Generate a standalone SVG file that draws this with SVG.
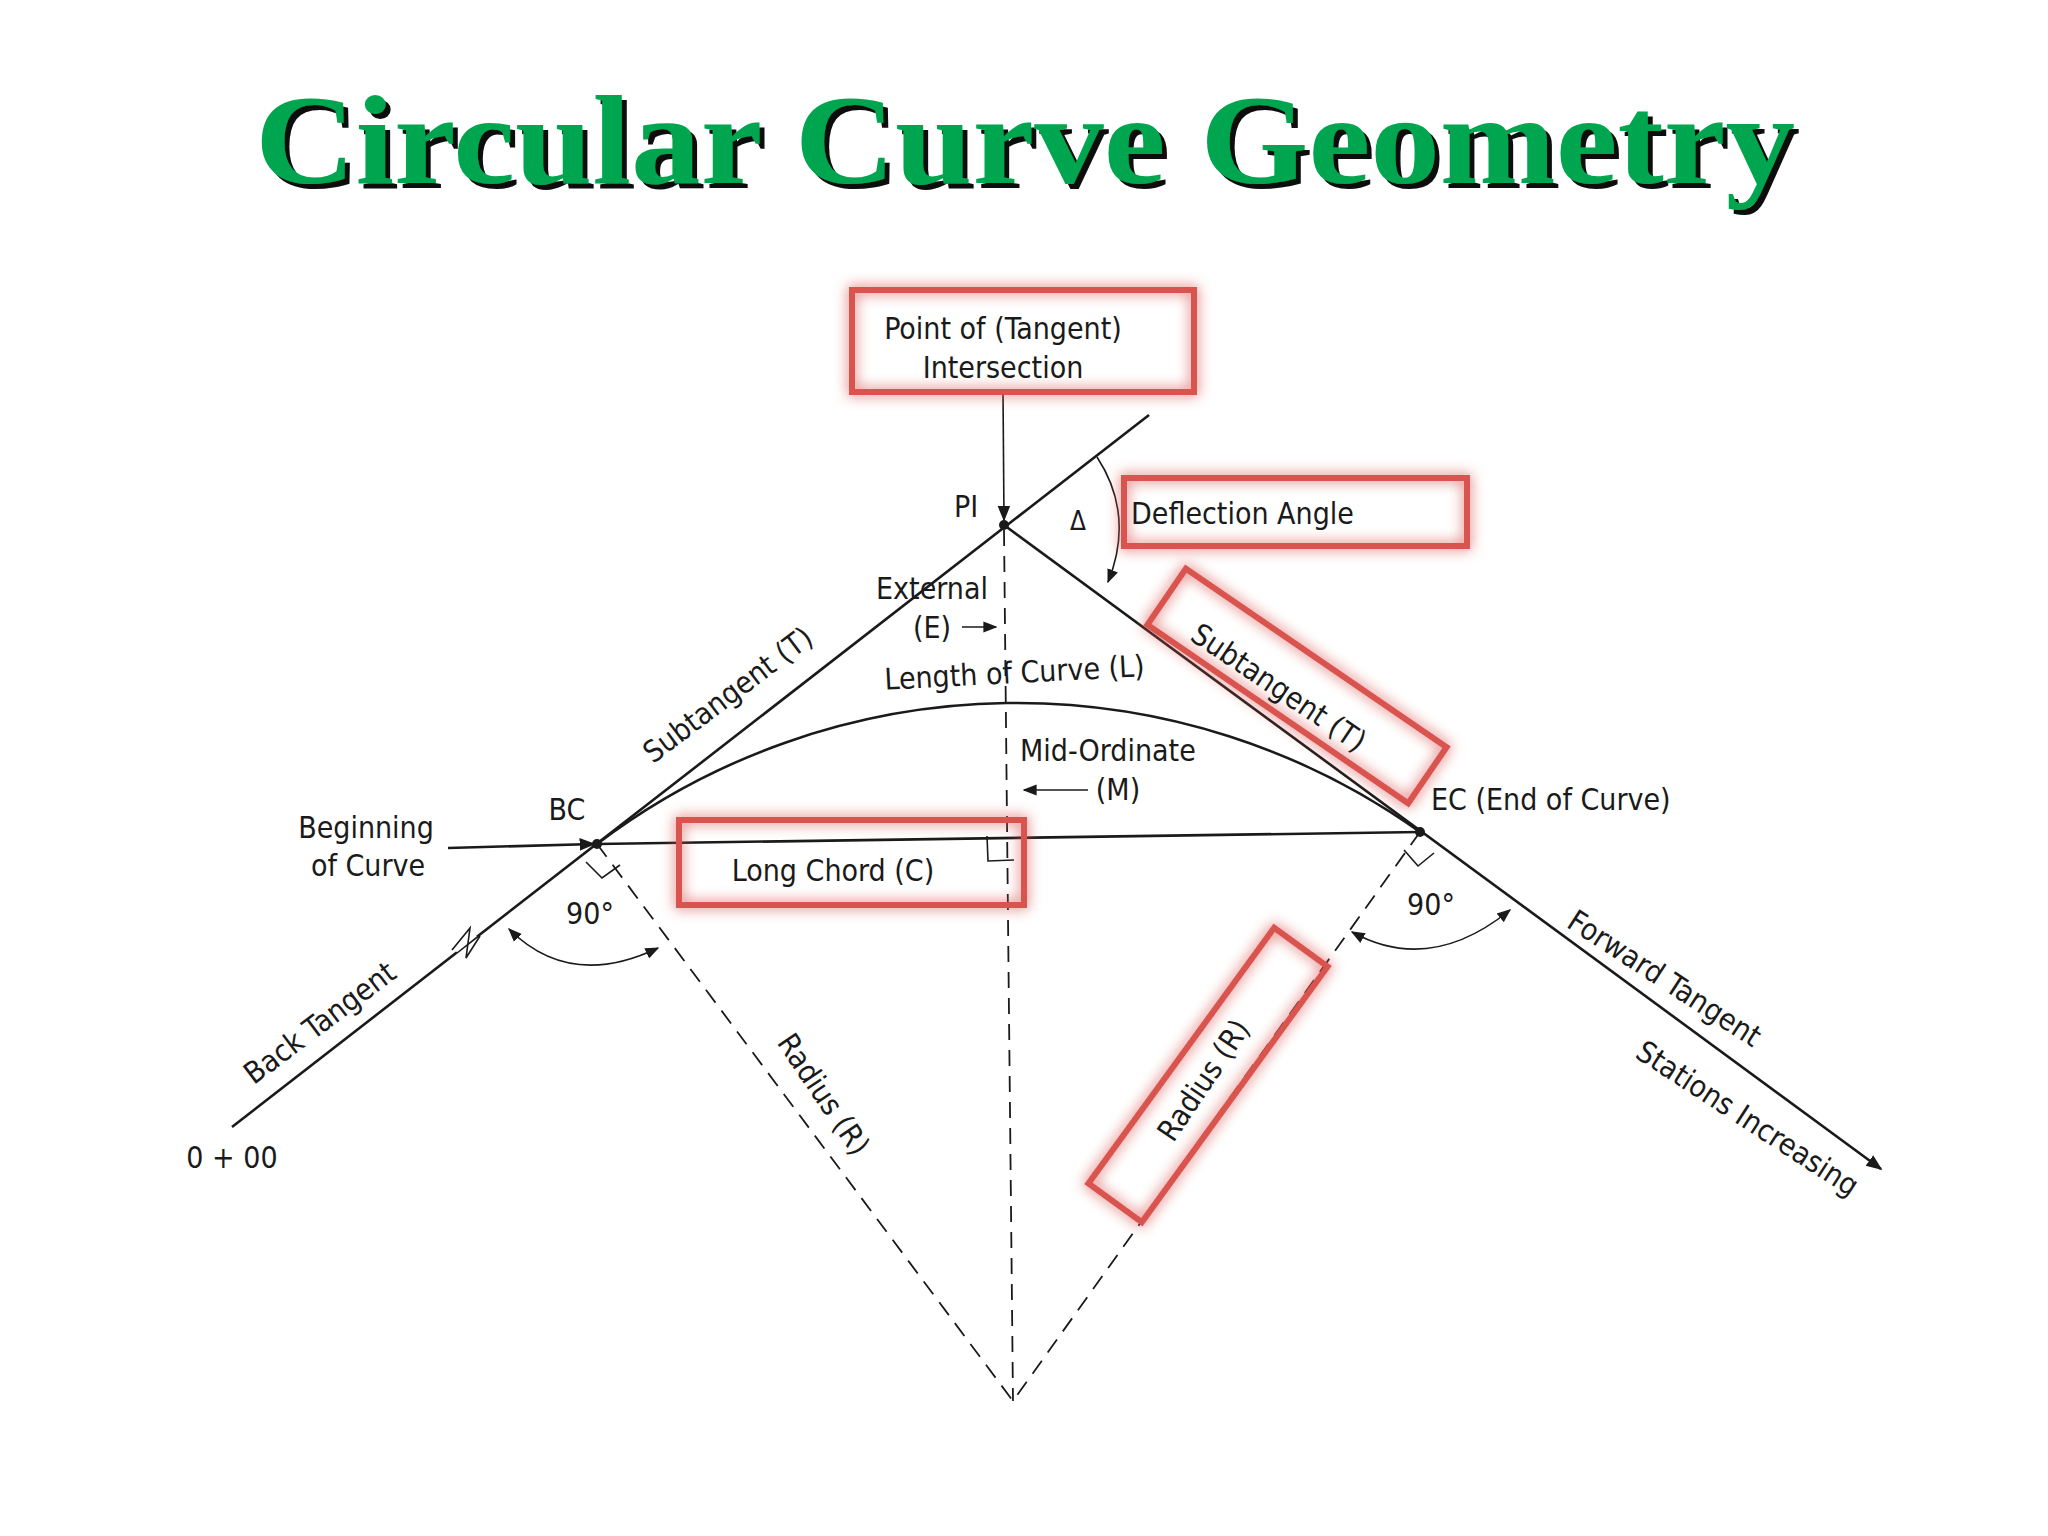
<svg xmlns="http://www.w3.org/2000/svg" width="2048" height="1536" viewBox="0 0 2048 1536">
<defs>
<style>
.t{font-family:"DejaVu Sans Condensed","DejaVu Sans",sans-serif;font-size:30px;fill:#1a1a1a}
.ln{stroke:#1a1a1a;stroke-width:2.6;fill:none}
.th{stroke:#1a1a1a;stroke-width:1.6;fill:none}
.ds{stroke:#1a1a1a;stroke-width:1.8;fill:none;stroke-dasharray:16 10}
.box{fill:none;stroke:#d9534f;stroke-width:6;filter:url(#glow)}
</style>
<filter id="glow" x="-20%" y="-40%" width="140%" height="180%">
<feGaussianBlur in="SourceGraphic" stdDeviation="7" result="b"/>
<feMerge><feMergeNode in="b"/><feMergeNode in="SourceGraphic"/></feMerge>
</filter>
<filter id="shadow" x="-5%" y="-20%" width="110%" height="140%">
<feDropShadow dx="5" dy="5" stdDeviation="0" flood-color="#111"/>
</filter>
<marker id="ar" viewBox="0 0 10 10" refX="9" refY="5" markerWidth="14" markerHeight="14" orient="auto-start-reverse" markerUnits="userSpaceOnUse"><path d="M0,1 L10,5 L0,9 z" fill="#1a1a1a"/></marker>
<marker id="arB" viewBox="0 0 10 10" refX="9" refY="5" markerWidth="16" markerHeight="16" orient="auto" markerUnits="userSpaceOnUse"><path d="M0,1 L10,5 L0,9 z" fill="#1a1a1a"/></marker>
</defs>
<rect width="2048" height="1536" fill="#ffffff"/>
<g id="title">
<text x="1025" y="183" text-anchor="middle" textLength="1540" lengthAdjust="spacingAndGlyphs" style="font-family:'Liberation Serif',serif;font-weight:bold;font-size:128px" fill="#00a650" filter="url(#shadow)">Circular Curve Geometry</text>
</g>
<g id="connectors">
<line class="ln" x1="232" y1="1127" x2="1149" y2="415"/>
<line class="ln" x1="1004" y1="525" x2="1881" y2="1169" marker-end="url(#arB)"/>
<line class="ln" x1="448" y1="848" x2="594" y2="844" marker-end="url(#arB)"/>
<line class="ln" x1="597" y1="844" x2="1420" y2="832"/>
<path class="ln" d="M597,844 A695,695 0 0 1 1420,832"/>
<line class="th" x1="1003" y1="392" x2="1004" y2="520" marker-end="url(#arB)"/>
<line class="ds" x1="1004" y1="530" x2="1013" y2="1401"/>
<line class="ds" x1="597" y1="844" x2="1013" y2="1401"/>
<line class="ds" x1="1420" y1="832" x2="1013" y2="1401"/>
<path class="th" d="M586,862 L602,878 L620,865"/>
<path class="th" d="M1404,850 L1418,866 L1434,853"/>
<path class="th" d="M987,836 L988,861 L1014,860"/>
<line x1="455" y1="950" x2="475" y2="934" stroke="#fff" stroke-width="6"/>
<path class="th" d="M452,950 L470,928 L466,958 L480,936" stroke-width="2.4"/>
<path class="th" d="M509,929 Q570,990 658,948" marker-start="url(#ar)" marker-end="url(#ar)"/>
<path class="th" d="M1352,932 Q1430,975 1510,910" marker-start="url(#ar)" marker-end="url(#ar)"/>
<path class="th" d="M1097,457 Q1135,515 1108,582" marker-end="url(#ar)"/>
<line class="th" x1="962" y1="627" x2="996" y2="627" marker-end="url(#ar)"/>
<line class="th" x1="1088" y1="790" x2="1024" y2="790" marker-end="url(#ar)"/>
<circle cx="1004" cy="525" r="5" fill="#1a1a1a"/>
<circle cx="597" cy="844" r="5" fill="#1a1a1a"/>
<circle cx="1420" cy="832" r="5" fill="#1a1a1a"/>
</g>
<g id="boxes">
<rect id="box-pi" class="box" x="852" y="290" width="342" height="102"/>
<rect id="box-defl" class="box" x="1124" y="478" width="343" height="68"/>
<rect id="box-chord" class="box" x="679" y="820" width="345" height="85"/>
<rect id="box-subt" class="box" x="-158" y="-34" width="316" height="68" transform="translate(1297,686) rotate(34.4)"/>
<rect id="box-rad" class="box" x="-158" y="-33" width="316" height="66" transform="translate(1208,1075) rotate(-54)"/>
</g>
<g id="labels">
<text class="t" x="1003" y="339" text-anchor="middle">Point of (Tangent)</text>
<text class="t" x="1003" y="378" text-anchor="middle">Intersection</text>
<text class="t" x="966" y="517" text-anchor="middle">PI</text>
<text class="t" x="1078" y="530" text-anchor="middle" style="font-size:26px">Δ</text>
<text class="t" x="1131" y="524">Deflection Angle</text>
<text class="t" x="932" y="599" text-anchor="middle">External</text>
<text class="t" x="932" y="638" text-anchor="middle">(E)</text>
<text class="t" transform="translate(734,703) rotate(-37)" text-anchor="middle">Subtangent (T)</text>
<text class="t" transform="translate(1015,683) rotate(-3)" text-anchor="middle">Length of Curve (L)</text>
<text class="t" transform="translate(1273,696) rotate(34)" text-anchor="middle">Subtangent (T)</text>
<text class="t" x="1020" y="761">Mid-Ordinate</text>
<text class="t" x="1118" y="800" text-anchor="middle">(M)</text>
<text class="t" x="1431" y="810">EC (End of Curve)</text>
<text class="t" x="567" y="820" text-anchor="middle">BC</text>
<text class="t" x="366" y="838" text-anchor="middle">Beginning</text>
<text class="t" x="368" y="876" text-anchor="middle">of Curve</text>
<text class="t" x="833" y="881" text-anchor="middle">Long Chord (C)</text>
<text class="t" x="590" y="924" text-anchor="middle">90°</text>
<text class="t" x="1431" y="915" text-anchor="middle">90°</text>
<text class="t" transform="translate(326,1031) rotate(-37)" text-anchor="middle">Back Tangent</text>
<text class="t" x="232" y="1168" text-anchor="middle">0 + 00</text>
<text class="t" transform="translate(815,1100) rotate(56)" text-anchor="middle">Radius (R)</text>
<text class="t" transform="translate(1212,1086) rotate(-56)" text-anchor="middle">Radius (R)</text>
<text class="t" transform="translate(1659,987) rotate(33)" text-anchor="middle">Forward Tangent</text>
<text class="t" transform="translate(1742,1127) rotate(33)" text-anchor="middle">Stations Increasing</text>
</g>
</svg>
